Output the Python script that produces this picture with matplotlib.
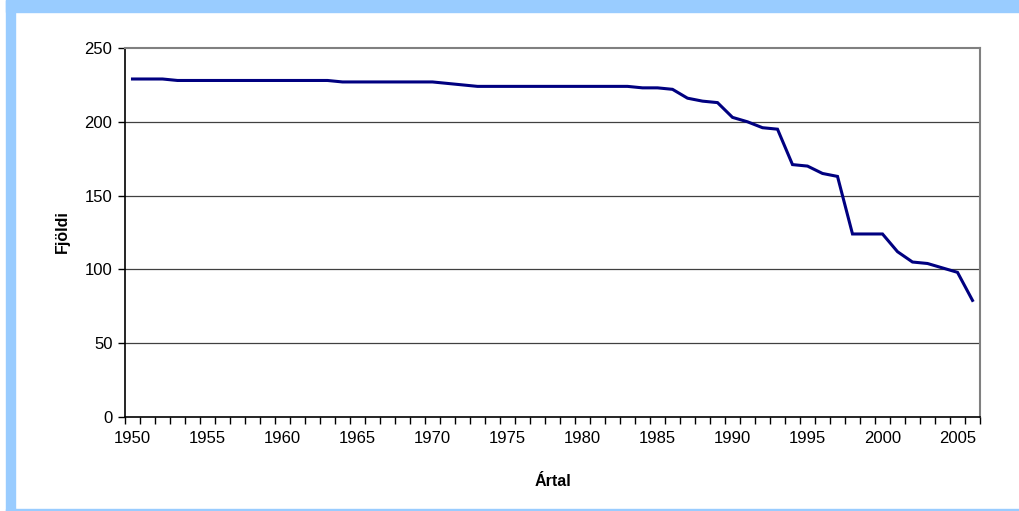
import matplotlib.pyplot as plt
from matplotlib.patches import Rectangle

years = list(range(1950, 2007))
counts = [229, 229, 229, 228, 228, 228, 228, 228, 228, 228,
          228, 228, 228, 228, 227, 227, 227, 227, 227, 227,
          227, 226, 225, 224, 224, 224, 224, 224, 224, 224,
          224, 224, 224, 224, 223, 223, 222, 216, 214, 213,
          203, 200, 196, 195, 171, 170, 165, 163, 124, 124,
          124, 112, 105, 104, 101, 98, 79]
year_labels = [1950, 1955, 1960, 1965, 1970, 1975, 1980, 1985, 1990, 1995, 2000, 2005]
y_ticks = [0, 50, 100, 150, 200, 250]

plt.rcParams['font.family'] = ['Liberation Sans', 'DejaVu Sans']

W, H = 1020, 511
fig = plt.figure(figsize=(W / 100, H / 100), dpi=100)

# light blue frame
blue = '#99CCFF'
fig.patches.append(Rectangle((6 / W, 0), 9 / W, 1, transform=fig.transFigure, color=blue, zorder=0))
fig.patches.append(Rectangle((6 / W, 1 - 12 / H), 1, 12 / H, transform=fig.transFigure, color=blue, zorder=0))
fig.patches.append(Rectangle((6 / W, 0), 1, 2 / H, transform=fig.transFigure, color=blue, zorder=0))

ax = fig.add_axes([125 / W, (H - 417) / H, 855 / W, 369 / H])
ax.plot(years, counts, color='#000080', lw=2.2, solid_joinstyle='miter', zorder=3)

ax.set_xlim(1949.5, 2006.5)
ax.set_ylim(0, 250)
ax.set_yticks(y_ticks)
ax.set_xticks([y - 0.5 for y in years] + [2006.5])
ax.set_xticklabels([])
ax.set_xticks(year_labels, minor=True)
ax.set_xticklabels([str(y) for y in year_labels], minor=True)
ax.tick_params(axis='x', which='major', direction='out', length=5, width=1, color='black')
ax.tick_params(axis='x', which='minor', length=0, pad=10, labelsize=12)
ax.tick_params(axis='y', direction='out', length=5, width=1, labelsize=12, pad=4)

for v in y_ticks[1:-1]:
    ax.axhline(v, color='#404040', lw=0.9, zorder=1)

for s in ['left', 'bottom']:
    ax.spines[s].set_color('black')
    ax.spines[s].set_linewidth(1.2)
for s in ['top', 'right']:
    ax.spines[s].set_color('#808080')
    ax.spines[s].set_linewidth(1.5)

fig.text(553 / W, 1 - 481 / H, 'Ártal', fontweight='bold', fontsize=11.5, ha='center', va='center')
fig.text(62 / W, 1 - 232 / H, 'Fjöldi', fontweight='bold', fontsize=11.5, ha='center', va='center',
         rotation=90)

fig.savefig('out.png', dpi=100)
